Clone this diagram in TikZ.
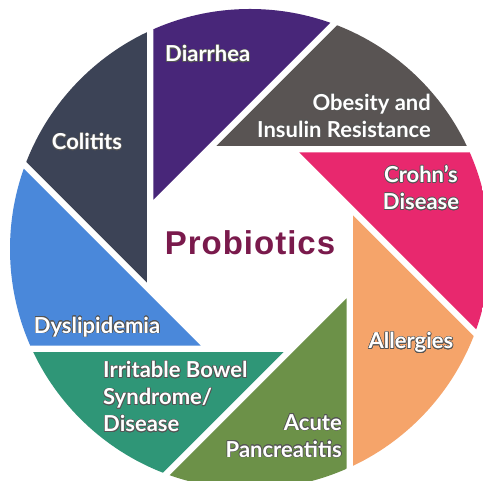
\documentclass[tikz,border=0pt]{standalone}
\usepackage{fontspec}
\setmainfont{Lato}
\newfontfamily\probfont{Liberation Sans}[LetterSpace=3]
\usepackage{contour}
\contourlength{0.6pt}
\contournumber{16}
\usetikzlibrary{calc}
\definecolor{cOrange}{HTML}{F5A46A}
\definecolor{cPink}{HTML}{E8286E}
\definecolor{cGray}{HTML}{595453}
\definecolor{cPurple}{HTML}{482679}
\definecolor{cSlate}{HTML}{3C4356}
\definecolor{cBlue}{HTML}{4A88DA}
\definecolor{cTeal}{HTML}{2F9677}
\definecolor{cOlive}{HTML}{6C9148}
\definecolor{cProb}{HTML}{7A1A4C}
\definecolor{cShade}{HTML}{2A2A2A}
\newcommand{\sh}[1]{\contour{cShade!80}{#1}}
\tikzset{
  lab/.style={text=white, inner sep=0pt, font=\fontsize{22}{27}\selectfont\bfseries},
  prob/.style={text=cProb, inner sep=0pt, font=\probfont\fontsize{33}{38}\selectfont\bfseries}
}
\begin{document}
\begin{tikzpicture}[x=1pt,y=1pt]
\useasboundingbox (0,0) rectangle (483,481);
\clip (0,0) rectangle (483,481);
\fill[white] (0,0) rectangle (483,481);
\coordinate (C) at (250,232);
\begin{scope}
  \clip (C) circle [radius=240pt];
  \foreach \a/\col in {18/cOrange, 63/cPink, 108/cGray, 153/cPurple, 198/cSlate, 243/cBlue, 288/cTeal, 333/cOlive}{
    \coordinate (T) at ($(C)+(\a:108.5pt)$);
    \fill[\col] (T) -- ($(T)+(\a-108:600pt)$) -- ($(T)+(\a-63:600pt)$) -- cycle;
  }
\end{scope}
\node[prob] (probiotics) at (250,238) {Probiotics};
\node[lab, anchor=west] (diarrhea) at (165,427) {\sh{Diarrhea}};
\node[lab, anchor=east, align=right] (obesity) at (431,365) {\sh{Obesity and}\\\sh{Insulin Resistance}};
\node[lab, align=center] (crohn) at (421,293) {\sh{Crohn\char39 s}\\\sh{Disease}};
\node[lab] (colitits) at (87,339) {\sh{Colitits}};
\node[lab] (dyslip) at (97,154) {\sh{Dyslipidemia}};
\node[lab] (allergies) at (411,138) {\sh{Allergies}};
\node[lab, anchor=west, align=left] (ibs) at (103,84) {\sh{Irritable Bowel}\\\sh{Syndrome/}\\\sh{Disease}};
\node[lab, anchor=east, align=right] (acute) at (342,45) {\sh{Acute}\\\sh{Pancreatitis}};
\end{tikzpicture}
\end{document}
